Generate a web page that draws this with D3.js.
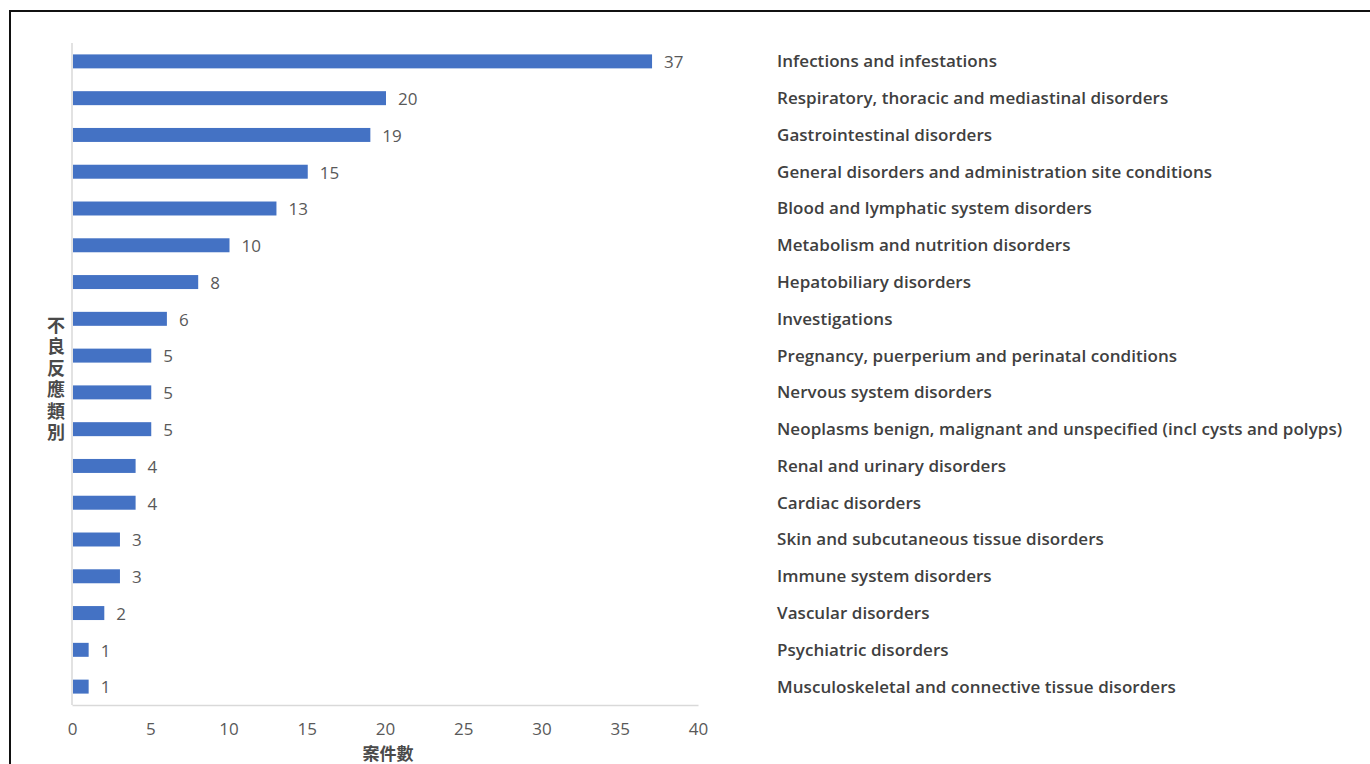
<!DOCTYPE html>
<html lang="zh-Hant">
<head>
<meta charset="utf-8">
<script src="https://d3js.org/d3.v7.min.js"></script>
<title>不良反應類別</title>
<style>
  body { margin: 0; background: #fff; }
  svg { display: block; }
</style>
</head>
<body>
<div id="chart"></div>
<script>
// data
var categories = [
  "Infections and infestations",
  "Respiratory, thoracic and mediastinal disorders",
  "Gastrointestinal disorders",
  "General disorders and administration site conditions",
  "Blood and lymphatic system disorders",
  "Metabolism and nutrition disorders",
  "Hepatobiliary disorders",
  "Investigations",
  "Pregnancy, puerperium and perinatal conditions",
  "Nervous system disorders",
  "Neoplasms benign, malignant and unspecified (incl cysts and polyps)",
  "Renal and urinary disorders",
  "Cardiac disorders",
  "Skin and subcutaneous tissue disorders",
  "Immune system disorders",
  "Vascular disorders",
  "Psychiatric disorders",
  "Musculoskeletal and connective tissue disorders"
];
var counts = [37, 20, 19, 15, 13, 10, 8, 6, 5, 5, 5, 4, 4, 3, 3, 2, 1, 1];
var xTicks = [0, 5, 10, 15, 20, 25, 30, 35, 40];
var yTitle = "不良反應類別";
var xTitle = "案件數";

var W = 1370, H = 764;
var margin = {left: 72, top: 43};
var plotW = 626, plotH = 662;

var svg = d3.select("#chart").append("svg")
    .attr("width", W)
    .attr("height", H);

// outer frame (only left/top visible in the picture)
svg.append("rect")
    .attr("x", 10).attr("y", 11)
    .attr("width", W + 20).attr("height", H + 20)
    .attr("fill", "none")
    .attr("stroke", "#111")
    .attr("stroke-width", 2);

var g = svg.append("g")
    .attr("transform", "translate(" + margin.left + "," + margin.top + ")");

var x = d3.scaleLinear()
    .domain([0, 40])
    .range([0, plotW]);

var y = d3.scaleBand()
    .domain(categories)
    .range([0, plotH])
    .paddingInner(0.62)
    .paddingOuter(0.31);

// axis lines
g.append("line")
    .attr("x1", 0).attr("x2", 0)
    .attr("y1", 0).attr("y2", plotH)
    .attr("stroke", "#d9d9d9").attr("stroke-width", 1.5);

var xAxis = g.append("g")
    .attr("transform", "translate(0," + plotH + ")")
    .call(d3.axisBottom(x).tickValues(xTicks).tickSize(0).tickPadding(18));
xAxis.select(".domain").attr("stroke", "#d9d9d9").attr("stroke-width", 1.5);
xAxis.selectAll("text")
    .attr("fill", "#595959")
    .style("font-family", "'Open Sans', sans-serif")
    .style("font-size", "17px");

// bars
g.selectAll("rect.bar")
    .data(categories)
    .enter().append("rect")
    .attr("class", "bar")
    .attr("x", x(0) + 1)
    .attr("y", function(d) { return y(d); })
    .attr("width", function(d, i) { return x(counts[i]) - x(0); })
    .attr("height", y.bandwidth())
    .attr("fill", "#4472c4");

// value labels
g.selectAll("text.val")
    .data(categories)
    .enter().append("text")
    .attr("class", "val")
    .attr("x", function(d, i) { return x(counts[i]) + 13; })
    .attr("y", function(d) { return y(d) + y.bandwidth() / 2; })
    .attr("dy", "0.4em")
    .attr("fill", "#595959")
    .style("font-family", "'Open Sans', sans-serif")
    .style("font-size", "17px")
    .text(function(d, i) { return counts[i]; });

// category labels on the right
g.selectAll("text.cat")
    .data(categories)
    .enter().append("text")
    .attr("class", "cat")
    .attr("x", 777 - margin.left)
    .attr("y", function(d) { return y(d) + y.bandwidth() / 2; })
    .attr("dy", "0.35em")
    .attr("fill", "#404040")
    .style("font-family", "'Open Sans', sans-serif")
    .style("font-size", "17px")
    .style("font-weight", "600")
    .style("letter-spacing", "0.05px")
    .text(function(d) { return d; });

// y title, stacked vertically
svg.append("text")
    .attr("x", 56)
    .attr("y", 316)
    .attr("fill", "#4a4a4a")
    .style("writing-mode", "vertical-rl")
    .style("font-family", "'Noto Sans CJK TC', sans-serif")
    .style("font-size", "18px")
    .style("font-weight", "bold")
    .style("letter-spacing", "3.5px")
    .text(yTitle);

// x title
svg.append("text")
    .attr("x", 388)
    .attr("y", 760)
    .attr("text-anchor", "middle")
    .attr("fill", "#4a4a4a")
    .style("font-family", "'Noto Sans CJK TC', sans-serif")
    .style("font-size", "17px")
    .style("font-weight", "bold")
    .text(xTitle);
</script>
</body>
</html>
